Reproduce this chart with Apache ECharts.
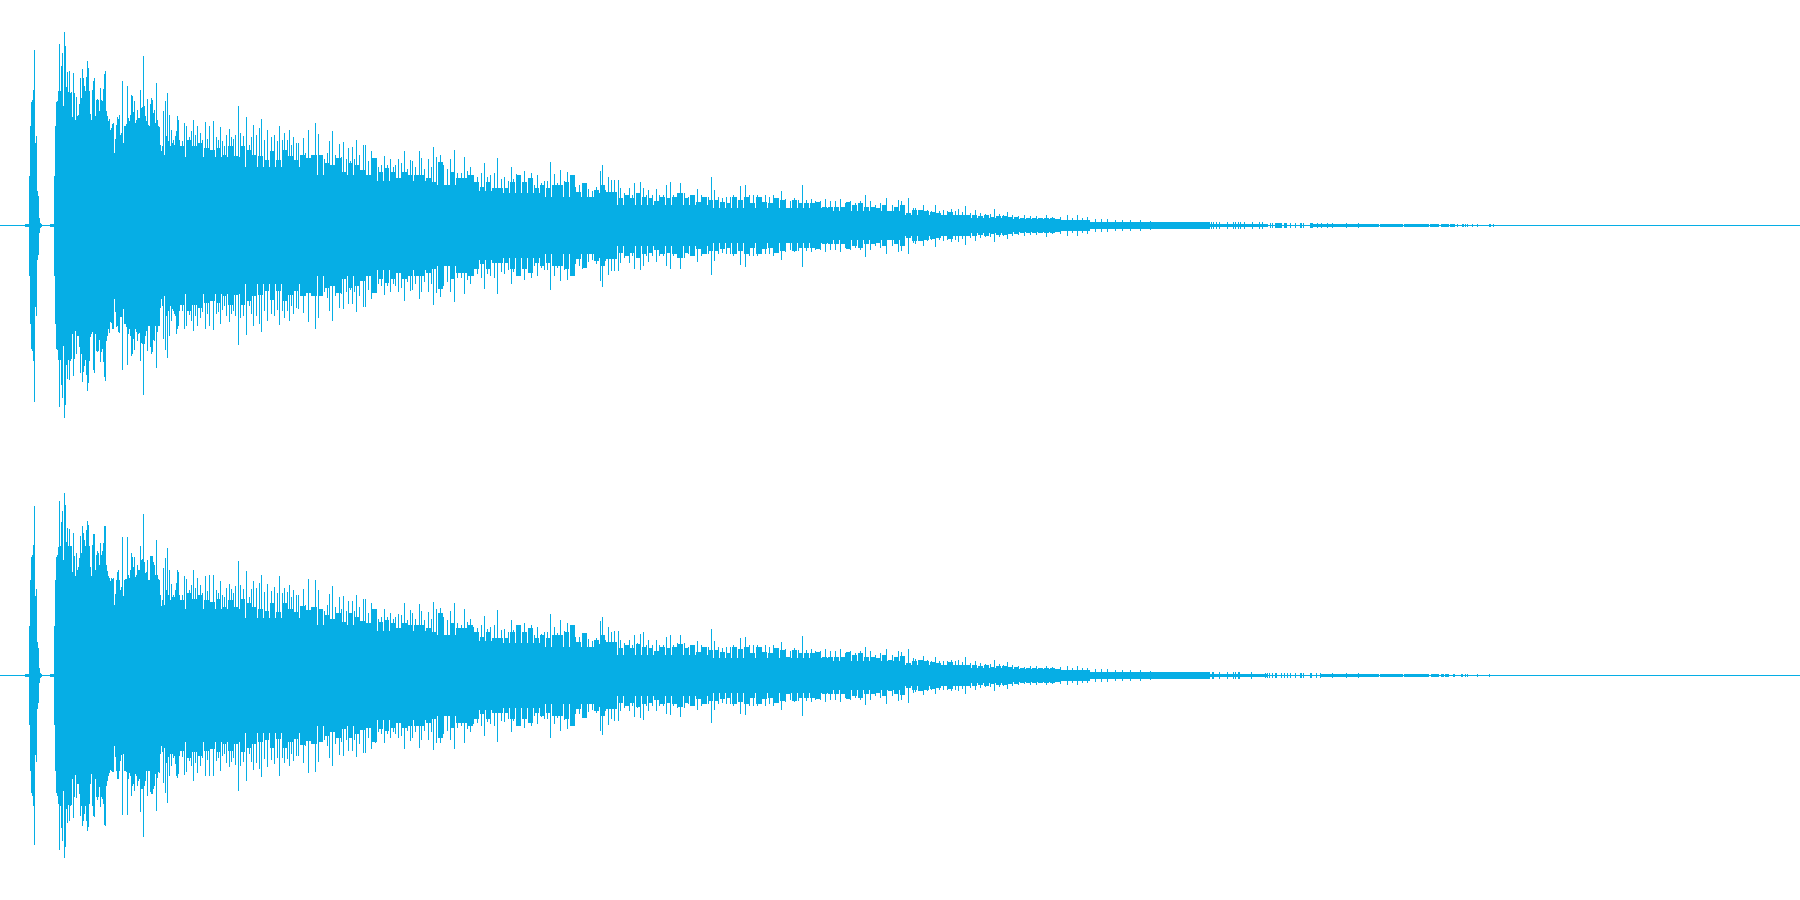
<!DOCTYPE html>
<html>
<head>
<meta charset="utf-8">
<style>html,body{margin:0;padding:0;background:#fff}#c{width:1800px;height:900px}</style>
<script src="https://cdn.jsdelivr.net/npm/echarts@6/dist/echarts.min.js"></script>
</head>
<body>
<div id="c"></div>
<script>
// Peak columns: horizontal position (time column) and amplitude above / below zero, per channel.
const peakTime = [
29,30,31,32,33,34,35,36,37,38,39,40,41,
54,55,56,57,58,59,60,61,62,63,
64,65,66,67,68,69,70,71,72,73,
74,75,76,77,78,79,80,81,82,83,
84,85,86,87,88,89,90,91,92,93,
94,95,96,97,98,99,100,101,102,103,
104,105,106,107,108,109,110,111,112,113,
114,115,116,117,118,119,120,121,122,123,
124,125,126,127,128,129,130,131,132,133,
134,135,136,137,138,139,140,141,142,143,
144,145,146,147,148,149,150,151,152,153,
154,155,156,157,158,159,160,161,162,163,
164,165,166,167,168,169,170,171,172,173,
174,175,176,177,178,179,
182,184,186,189,191,193,195,197,200,202,205,207,209,213,216,218,220,222,224,226,
229,231,233,235,238,240,243,246,249,251,253,256,259,261,264,267,271,274,277,279,282,284,287,289,291,293,296,298,
303,305,308,311,315,318,321,324,327,329,
332,335,339,341,343,346,348,350,352,354,
356,359,363,365,368,371,373,375,378,381,
384,387,390,393,395,398,401,404,407,410,
412,415,419,421,424,428,431,433,436,440,
443,447,450,454,457,461,464,467,470,473,
477,481,484,487,490,494,497,501,504,508,
511,513,516,520,524,528,531,534,537,541,
544,547,550,554,557,560,564,567,571,575,
579,582,585,588,592,596,599,
600,602,605,608,611,614,618,620,624,629,
632,634,637,640,643,646,648,652,656,659,
663,666,670,673,677,680,684,688,692,697,
701,705,708,711,714,718,722,726,730,733,
736,740,745,749,753,757,761,765,769,773,
777,781,785,790,794,798,802,806,811,815,
820,825,830,835,840,845,850,855,860,865,
870,875,880,886,892,898,
901,904,908,913,915,919,923,927,931,935,
939,943,947,951,955,958,962,965,970,975,
980,985,990,994,999,1003,1007,1012,1018,1024,
1030,1036,1046,1052,1060,1067,1072,1077,1082,1087,
1095,1101,1107,1115,1122,1130,1140,1150
];
const ch1Up = [
49,99,123,125,135,175,82,89,34,29,7,2,1,
49,99,123,124,134,181,134,159,172,119,
193,179,138,153,133,154,132,133,108,152,
132,105,128,109,110,121,147,127,156,147,
139,134,148,164,157,134,111,105,135,144,
147,109,125,126,125,114,137,125,124,136,
151,154,114,109,104,106,95,97,101,102,
72,86,100,108,106,110,90,92,144,82,
99,99,101,139,107,104,110,130,129,113,
124,102,105,115,107,107,135,117,118,169,
119,109,104,126,100,99,121,127,125,112,
115,102,142,105,99,98,80,74,79,114,
70,124,89,132,84,110,79,95,82,85,
80,89,94,109,105,85,
84,102,99,88,94,105,90,99,92,85,103,86,99,104,88,85,98,84,79,90,
96,88,86,90,119,92,89,108,80,88,100,90,97,106,85,95,88,90,84,99,85,92,85,95,80,88,82,82,
87,72,95,70,102,91,68,66,72,84,
94,70,81,68,83,66,77,64,78,66,
85,70,80,80,64,74,62,65,58,60,
69,60,66,58,60,66,62,74,56,65,
64,58,74,67,56,66,58,78,68,70,
60,56,66,75,52,52,68,54,58,50,
48,52,62,48,50,52,67,46,48,44,
58,46,51,45,54,42,52,40,50,42,
44,44,63,51,42,55,44,53,42,38,
40,42,42,36,34,38,32,
54,60,35,48,45,45,45,37,32,37,
30,42,32,43,37,30,35,30,36,30,
30,40,43,30,32,42,32,28,30,36,
30,28,28,48,35,28,27,28,28,30,
28,39,40,30,30,30,28,30,28,30,
27,34,26,24,27,25,40,25,26,24,
24,26,24,24,26,22,24,22,24,30,
24,20,22,27,20,25,
24,16,27,17,17,15,20,15,14,20,
14,15,14,16,14,16,13,19,12,15,
12,11,11,16,11,10,13,10,9,10,
9,9,10,8,8,10,7,10,7,8,
6,6,6,5,5,5,5,4
];
const ch1Down = [
50,98,123,125,135,176,81,90,34,29,7,2,1,
50,98,123,124,134,181,134,159,172,120,
192,179,139,153,134,154,135,133,108,150,
133,105,128,110,110,121,147,128,156,146,
140,134,149,165,157,135,111,108,106,144,
147,108,125,126,125,114,136,126,123,136,
151,155,115,110,103,107,96,97,103,103,
73,86,101,100,106,107,91,91,144,83,
98,98,101,139,108,103,110,130,128,113,
124,103,106,115,108,107,135,117,118,169,
118,110,105,125,100,100,121,128,126,114,
115,100,142,106,100,100,82,73,80,113,
70,124,90,132,85,110,80,95,83,85,
88,90,108,103,100,85,
85,103,100,89,95,105,90,100,92,86,103,88,100,104,88,86,98,84,80,90,
96,88,85,90,119,92,90,109,80,88,100,90,98,106,85,95,88,90,84,99,85,92,85,95,80,88,82,83,
87,70,96,70,103,92,68,66,72,85,
95,70,82,68,83,66,78,64,78,66,
86,70,81,81,64,73,62,66,58,60,
69,60,66,58,60,66,62,75,56,65,
64,58,73,66,56,66,58,79,67,71,
60,56,66,76,52,52,68,54,58,50,
48,52,63,48,50,52,68,46,48,44,
58,46,50,45,54,42,52,40,50,42,
44,44,64,50,42,55,44,54,42,38,
40,43,42,36,34,38,32,
55,61,35,49,45,45,45,37,32,37,
30,43,32,44,40,30,36,30,36,30,
30,40,43,30,32,43,32,28,30,36,
30,28,28,49,35,28,27,28,28,30,
28,39,41,30,30,30,28,28,28,30,
27,34,26,24,26,25,41,25,26,24,
24,26,24,24,26,22,24,22,24,31,
24,20,22,28,20,26,
25,16,28,17,18,15,20,15,14,21,
14,15,14,16,14,16,13,19,12,15,
12,11,11,16,11,10,13,10,9,10,
9,9,11,8,8,10,7,10,7,8,
6,6,6,5,5,5,5,4
];
const ch2Up = [
49,95,118,120,130,169,79,86,33,27,7,2,1,
49,95,118,120,128,174,129,153,164,115,
182,170,133,147,129,146,129,129,103,142,
119,99,122,105,108,117,139,122,149,142,
135,129,145,154,150,129,108,99,130,141,
141,105,120,124,122,110,132,120,124,132,
149,149,110,104,99,97,94,97,96,97,
70,81,95,103,105,95,85,88,138,79,
95,96,96,138,100,97,105,122,118,108,
118,98,100,110,105,105,129,115,116,161,
113,102,103,115,95,95,119,119,119,113,
110,100,135,100,96,95,80,69,75,107,
70,117,85,127,80,105,75,91,78,80,
78,85,92,105,103,80,
80,99,96,85,90,105,87,97,90,82,99,84,100,100,85,82,94,80,78,87,
91,86,82,89,114,90,86,104,78,86,94,87,92,100,83,91,84,88,82,99,82,87,83,90,78,85,80,80,
86,70,96,68,95,85,66,64,70,81,
89,68,78,66,79,64,74,62,74,64,
80,68,76,76,62,72,60,65,56,58,
66,58,62,56,58,61,60,72,55,65,
62,56,71,64,55,63,56,73,66,67,
58,55,64,72,52,50,66,53,56,48,
47,50,59,46,48,50,65,45,46,43,
55,45,48,44,52,40,50,40,48,41,
43,43,61,48,42,55,44,52,41,38,
38,41,41,36,34,37,31,
54,58,35,48,43,44,44,35,32,35,
30,40,32,41,43,30,35,30,35,30,
30,38,40,30,32,40,32,28,30,34,
30,28,28,46,34,28,27,28,28,30,
28,37,38,30,30,30,28,30,28,30,
27,33,26,24,27,25,39,25,26,24,
24,26,24,24,26,22,24,22,24,28,
24,20,22,26,20,24,
23,15,26,17,16,15,19,15,14,18,
14,14,14,15,14,15,13,18,12,14,
12,11,11,15,11,10,13,10,9,8,
9,9,9,8,8,9,7,9,7,7,
6,6,6,5,5,5,5,4
];
const ch2Down = [
49,95,117,120,130,169,79,86,33,27,7,2,1,
49,95,117,120,128,174,130,152,165,115,
182,171,133,147,129,145,130,129,103,142,
121,99,122,108,108,118,140,130,150,145,
138,130,145,155,151,128,108,98,130,140,
141,103,121,124,121,111,131,121,123,128,
149,150,110,105,100,97,94,95,96,96,
70,81,95,103,103,95,85,79,139,78,
95,95,96,139,103,97,100,120,110,108,
115,98,100,110,105,103,136,113,113,161,
110,105,95,120,95,95,116,118,118,113,
110,98,135,102,96,97,78,70,76,107,
72,117,87,127,81,100,78,90,78,82,
80,88,100,102,98,80,
81,99,96,85,90,105,87,97,90,82,100,84,100,100,85,82,95,80,78,87,
91,86,82,89,115,90,86,105,78,86,94,87,93,101,83,91,84,88,82,100,82,87,83,90,78,85,80,80,
87,70,97,68,96,86,66,64,70,82,
90,68,79,66,80,64,75,62,75,64,
81,68,77,77,62,73,60,67,56,58,
67,58,62,56,58,62,60,73,55,65,
62,56,72,64,55,64,56,74,67,67,
58,55,64,73,52,50,67,53,56,48,
47,50,60,46,48,50,66,45,46,43,
56,45,50,44,52,40,50,40,48,41,
43,43,62,48,42,55,44,53,41,38,
38,41,41,36,34,37,31,
55,59,35,49,43,45,45,35,32,35,
30,41,32,42,44,30,35,30,35,30,
30,38,39,30,32,41,32,28,30,34,
30,28,28,47,34,28,27,28,28,30,
28,38,39,30,30,30,28,30,28,30,
27,34,26,24,26,25,40,25,26,24,
24,26,24,24,26,22,24,22,24,29,
24,20,22,28,20,25,
24,15,27,17,16,15,19,15,14,18,
14,14,14,15,14,15,13,18,12,14,
12,11,11,15,11,10,13,10,9,8,
9,9,9,8,8,9,7,9,7,7,
6,6,6,5,5,5,5,4
];

// Fill level of the waveform between peaks, one short block per entry.
const fillTime = [
180,186,192,198,204,210,216,222,228,234,240,246,252,258,264,270,276,282,288,294,
300,306,312,318,324,330,336,342,348,354,360,366,372,378,384,390,396,402,408,414,
420,426,432,438,444,450,456,462,468,474,480,486,492,498,504,510,516,522,528,534,
540,546,552,558,564,570,576,582,588,594,
600,606,612,618,624,630,636,642,648,654,660,666,672,678,684,690,696,702,708,714,
720,726,732,738,744,750,756,762,768,774,780,786,792,798,804,810,816,822,828,834,
840,846,852,858,864,870,876,882,888,894,
900,906,912,918,924,930,936,942,948,954,960,966,972,978,984,990,996,1002,1008,1014,
1020,1026,1032,1038,1044,1050,1056
];
const ch1Fill = [
79,85,79,82,77,75,77,70,79,69,79,75,70,69,65,74,65,75,69,65,
70,67,70,70,62,60,67,53,62,60,55,50,67,53,57,53,47,53,50,50,
50,47,43,63,40,53,47,47,50,43,38,43,37,37,37,43,50,43,47,37,
40,37,40,40,43,50,33,42,27,35,
40,33,33,27,30,27,32,28,27,24,28,27,28,32,27,30,23,28,25,25,
23,22,28,25,28,22,28,23,22,27,25,17,25,22,22,22,23,18,18,18,
18,23,20,22,18,18,17,20,14,18,
20,12,15,15,14,13,12,10,13,9,10,10,10,9,10,8,9,9,8,8,
7,7,7,7,7,7,6
];
const ch2Fill = [
75,82,76,80,75,73,76,68,75,68,76,72,68,66,64,72,63,72,66,63,
69,65,68,66,60,56,62,53,62,58,54,52,66,53,55,52,47,52,50,50,
50,47,43,62,40,52,47,47,50,43,38,43,37,37,37,43,50,43,47,37,
40,37,40,40,43,50,33,42,28,35,
40,33,33,27,30,27,31,28,27,24,28,27,28,31,27,30,23,28,25,25,
23,22,28,26,28,22,28,23,22,27,25,18,25,22,22,22,23,18,18,18,
18,23,20,22,18,18,17,20,15,18,
19,12,14,15,14,13,12,10,13,9,10,10,10,9,10,8,9,9,8,8,
7,7,7,7,7,7,6
];

// Solid body of the waveform: stretches [from, to, amplitude].
const bodyFrom = [0,25,50,180,240,300,370,430,460,500,540,600,710,830,900,970,1010,1060,1090,1170,1210];
const bodyTo   = [1800,29,54,240,300,370,430,460,500,540,600,710,830,900,970,1010,1060,1090,1170,1210,1268];
const ch1Body  = [0.5,1.5,1.5,68,58,50,44,40,34,32,28,20,17,14,10,7,6,5,3.5,3,1.5];
const ch2Body  = [0.5,1.5,1.5,66,57,50,44,40,34,32,28,20,17,14,10,7,6,5,3.5,3,1.5];

// Tail of each channel: short blocks.
const ch1TailFrom = [1275,1284,1290,1300,1310,1313,1380,1404,1430,1441,1450,1462,1489];
const ch1TailTo   = [1282,1287,1291,1302,1313,1379,1403,1429,1439,1449,1455,1464,1491];
const ch1TailAmp  = [2,2,2,2,2,1,1,1,1,1,1,1,1];
const ch2TailFrom = [1265,1275,1290,1300,1310,1320,1380,1404,1431,1441,1445,1453,1461];
const ch2TailTo   = [1266,1277,1291,1302,1312,1379,1403,1429,1439,1444,1449,1455,1463];
const ch2TailAmp  = [2,2,2,2,2,1,1,1,1,1,1,1,1];

// Tail of each channel: single thin ticks.
const ch1TickTime = [1201,1206,1207,1211,1213,1216,1219,1227,1233,1235,1238,1240,1244,1252,1259,1262,1270,1272,1295,1303,1317,1321,1327,1332,1346,1358,1457,1465,1467,1472,1477,1493];
const ch1TickAmp  = [3,3,3,3,3,3,3,3,3,3,3,3,3,3,3,3,2,2,2,2,2,2,2,2,2,2,1,1,1,1,1,1];
const ch2TickTime = [1201,1206,1212,1213,1219,1227,1233,1235,1238,1239,1251,1267,1269,1272,1281,1284,1287,1295,1303,1311,1316,1320,1332,1346,1358,1465,1467,1477,1489];
const ch2TickAmp  = [3,3,3,3,3,3,3,3,3,3,3,2,2,2,2,2,2,2,2,2,2,2,2,2,2,1,1,1,1];

const waveColor = '#06aee5';
const fillBlock = 5;
const chart = echarts.init(document.getElementById('c'), null, {renderer:'canvas'});

function columns(peakHi, peakLo, fillAmp, bodyAmp, tailFrom, tailTo, tailAmp, tickTime, tickAmp) {
  const rows = [];
  bodyFrom.forEach((f,i)=>rows.push([f, bodyTo[i], bodyAmp[i], bodyAmp[i]]));
  fillTime.forEach((t,i)=>rows.push([t, t+fillBlock, fillAmp[i], fillAmp[i]]));
  tailFrom.forEach((f,i)=>rows.push([f, tailTo[i], tailAmp[i], tailAmp[i]]));
  tickTime.forEach((t,i)=>rows.push([t, t+1, tickAmp[i], tickAmp[i]]));
  peakTime.forEach((t,i)=>rows.push([t, t+1, peakHi[i], peakLo[i]]));
  return rows;
}
function renderColumn(params, api) {
  const a = api.coord([api.value(0), api.value(2)]);
  const b = api.coord([api.value(1), -api.value(3)]);
  const x0 = Math.round(a[0]), x1 = Math.round(b[0]);
  const y0 = Math.floor(a[1] + 0.01), y1 = Math.ceil(b[1] - 0.01);
  return {type:'rect', shape:{x:x0, y:y0, width:x1-x0, height:y1-y0},
          style:{fill:waveColor}, silent:true};
}
const axisOff = {show:false};
chart.setOption({
  animation:false,
  backgroundColor:'#ffffff',
  grid:[{left:0,top:0.5,width:1800,height:449},{left:0,top:450.5,width:1800,height:449}],
  xAxis:[{type:'value',gridIndex:0,min:0,max:1800,...axisOff},{type:'value',gridIndex:1,min:0,max:1800,...axisOff}],
  yAxis:[{type:'value',gridIndex:0,min:-224,max:225,...axisOff},{type:'value',gridIndex:1,min:-224,max:225,...axisOff}],
  series:[
    {name:'Channel 1',type:'custom',xAxisIndex:0,yAxisIndex:0,clip:false,renderItem:renderColumn,
     encode:{x:[0,1],y:[2,3]},
     data:columns(ch1Up,ch1Down,ch1Fill,ch1Body,ch1TailFrom,ch1TailTo,ch1TailAmp,ch1TickTime,ch1TickAmp)},
    {name:'Channel 2',type:'custom',xAxisIndex:1,yAxisIndex:1,clip:false,renderItem:renderColumn,
     encode:{x:[0,1],y:[2,3]},
     data:columns(ch2Up,ch2Down,ch2Fill,ch2Body,ch2TailFrom,ch2TailTo,ch2TailAmp,ch2TickTime,ch2TickAmp)}
  ]
});
</script>
</body>
</html>
